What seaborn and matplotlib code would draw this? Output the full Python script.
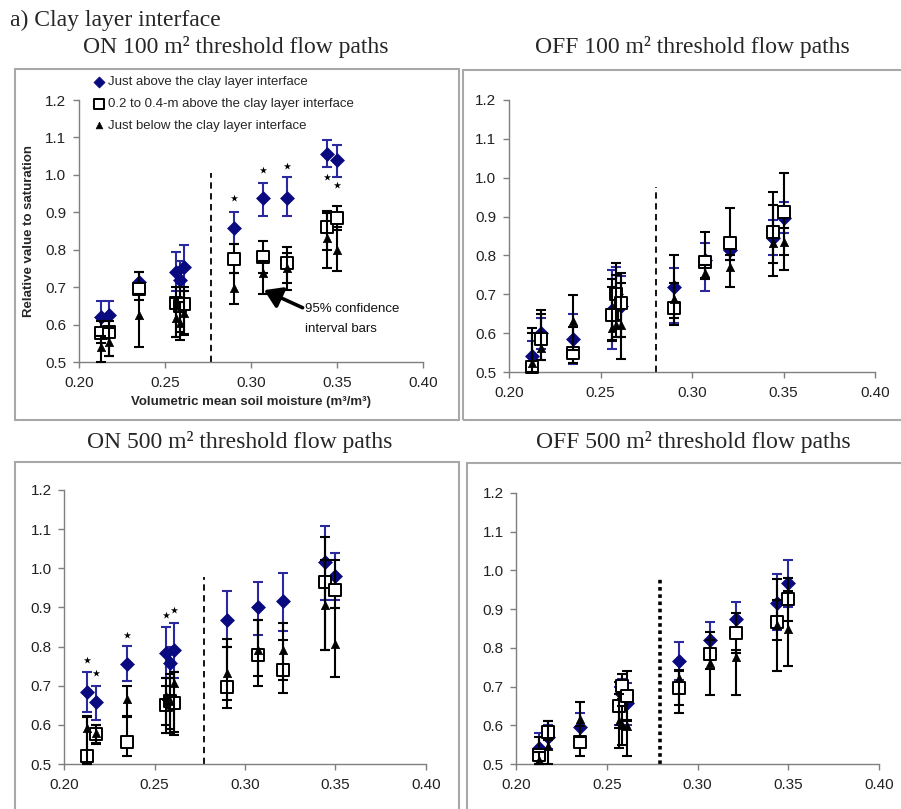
import numpy as np
import matplotlib
matplotlib.use("Agg")
import matplotlib.pyplot as plt
import seaborn as sns
from matplotlib.patches import Rectangle

# ---------------- data ----------------
soil_moisture = [0.2125, 0.2175, 0.235, 0.2565, 0.2585, 0.261, 0.290, 0.307, 0.321, 0.344, 0.350]

# ON 100 m2
on100_above    = [0.619, 0.626, 0.715, 0.741, 0.719, 0.753, 0.859, 0.937, 0.937, 1.055, 1.040]
on100_above_lo = [0.575, 0.588, 0.690, 0.690, 0.670, 0.690, 0.815, 0.890, 0.890, 1.022, 0.993]
on100_above_hi = [0.664, 0.664, 0.741, 0.793, 0.770, 0.813, 0.901, 0.979, 0.993, 1.093, 1.081]
on100_mid      = [0.578, 0.581, 0.694, 0.657, 0.650, 0.655, 0.774, 0.781, 0.764, 0.862, 0.885]
on100_mid_lo   = [0.550, 0.516, 0.666, 0.568, 0.580, 0.575, 0.737, 0.737, 0.712, 0.800, 0.853]
on100_mid_hi   = [0.610, 0.610, 0.741, 0.700, 0.700, 0.700, 0.814, 0.822, 0.808, 0.904, 0.918]
on100_below    = [0.541, 0.554, 0.626, 0.617, 0.605, 0.630, 0.697, 0.737, 0.750, 0.830, 0.800]
on100_below_lo = [0.500, 0.516, 0.541, 0.568, 0.560, 0.572, 0.655, 0.683, 0.692, 0.750, 0.744]
on100_below_hi = [0.570, 0.590, 0.683, 0.670, 0.660, 0.690, 0.737, 0.770, 0.790, 0.897, 0.862]
on100_star_x = [0.290, 0.307, 0.321, 0.344, 0.350]
on100_star_y = [0.937, 1.013, 1.024, 0.995, 0.973]

# OFF 100 m2
off100_above    = [0.541, 0.600, 0.584, 0.660, 0.700, 0.670, 0.720, 0.788, 0.814, 0.844, 0.896]
off100_above_lo = [0.500, 0.560, 0.520, 0.560, 0.630, 0.589, 0.625, 0.709, 0.788, 0.800, 0.859]
off100_above_hi = [0.581, 0.640, 0.649, 0.762, 0.771, 0.747, 0.767, 0.831, 0.840, 0.891, 0.938]
off100_mid      = [0.514, 0.584, 0.550, 0.647, 0.702, 0.677, 0.664, 0.784, 0.833, 0.861, 0.913]
off100_mid_lo   = [0.500, 0.531, 0.522, 0.582, 0.634, 0.533, 0.621, 0.741, 0.788, 0.747, 0.763]
off100_mid_hi   = [0.612, 0.660, 0.617, 0.720, 0.781, 0.754, 0.800, 0.861, 0.921, 0.962, 1.011]
off100_below    = [0.522, 0.563, 0.630, 0.612, 0.620, 0.620, 0.687, 0.756, 0.769, 0.831, 0.835]
off100_below_lo = [0.500, 0.531, 0.557, 0.580, 0.590, 0.590, 0.640, 0.740, 0.720, 0.780, 0.800]
off100_below_hi = [0.600, 0.650, 0.698, 0.740, 0.750, 0.730, 0.730, 0.775, 0.800, 0.930, 0.870]

# ON 500 m2
on500_above    = [0.685, 0.658, 0.756, 0.783, 0.759, 0.792, 0.868, 0.900, 0.917, 1.015, 0.981]
on500_above_lo = [0.634, 0.613, 0.713, 0.720, 0.720, 0.720, 0.800, 0.830, 0.841, 0.919, 0.919]
on500_above_hi = [0.735, 0.700, 0.802, 0.851, 0.800, 0.861, 0.941, 0.966, 0.989, 1.108, 1.038]
on500_mid      = [0.521, 0.577, 0.555, 0.651, 0.660, 0.656, 0.696, 0.779, 0.739, 0.964, 0.945]
on500_mid_lo   = [0.500, 0.554, 0.521, 0.580, 0.590, 0.583, 0.643, 0.724, 0.681, 0.792, 0.898]
on500_mid_hi   = [0.622, 0.600, 0.622, 0.720, 0.730, 0.735, 0.820, 0.868, 0.817, 1.079, 1.021]
on500_below    = [0.592, 0.579, 0.666, 0.673, 0.660, 0.707, 0.732, 0.792, 0.790, 0.907, 0.807]
on500_below_lo = [0.500, 0.550, 0.620, 0.600, 0.580, 0.575, 0.664, 0.700, 0.715, 0.792, 0.722]
on500_below_hi = [0.620, 0.600, 0.700, 0.700, 0.720, 0.735, 0.800, 0.868, 0.861, 1.020, 0.898]
on500_star_x = [0.2125, 0.2175, 0.235, 0.2565, 0.261]
on500_star_y = [0.766, 0.733, 0.830, 0.881, 0.893]

# OFF 500 m2
off500_above    = [0.541, 0.570, 0.595, 0.655, 0.680, 0.657, 0.765, 0.820, 0.874, 0.917, 0.968]
off500_above_lo = [0.500, 0.540, 0.563, 0.600, 0.640, 0.600, 0.716, 0.773, 0.829, 0.846, 0.906]
off500_above_hi = [0.580, 0.600, 0.631, 0.700, 0.720, 0.710, 0.814, 0.868, 0.919, 0.990, 1.028]
off500_mid      = [0.524, 0.582, 0.556, 0.650, 0.702, 0.676, 0.696, 0.783, 0.839, 0.868, 0.925]
off500_mid_lo   = [0.500, 0.563, 0.521, 0.593, 0.668, 0.614, 0.653, 0.745, 0.786, 0.820, 0.870]
off500_mid_hi   = [0.571, 0.610, 0.599, 0.713, 0.733, 0.741, 0.741, 0.820, 0.891, 0.923, 0.980]
off500_below    = [0.511, 0.547, 0.616, 0.610, 0.600, 0.599, 0.722, 0.760, 0.776, 0.859, 0.850]
off500_below_lo = [0.500, 0.500, 0.571, 0.541, 0.550, 0.521, 0.631, 0.679, 0.679, 0.741, 0.752]
off500_below_hi = [0.530, 0.610, 0.661, 0.680, 0.650, 0.610, 0.743, 0.840, 0.795, 0.977, 0.948]

series_labels = ["Just above the clay layer interface",
                 "0.2 to 0.4-m above the clay layer interface",
                 "Just below the clay layer interface"]
panel_titles = ["ON 100 m² threshold flow paths", "OFF 100 m² threshold flow paths",
                "ON 500 m² threshold flow paths", "OFF 500 m² threshold flow paths"]
threshold_x = [0.2767, 0.2803, 0.2773, 0.2793]
threshold_top = [1.005, 0.976, 0.978, 0.978]
x_ticks = [0.20, 0.25, 0.30, 0.35, 0.40]
y_ticks = [0.5, 0.6, 0.7, 0.8, 0.9, 1.0, 1.1, 1.2]

# ---------------- figure ----------------
sns.set_style("white")
plt.rcParams["font.family"] = ["Liberation Sans", "DejaVu Sans"]

W, H = 901, 809
fig = plt.figure(figsize=(W / 100, H / 100), dpi=100)


def px_rect(l, t, r, b):
    return [l / W, 1 - b / H, (r - l) / W, (b - t) / H]


NAVY = "#0a0a80"
NAVY_ERR = "#2a2a9e"
GRAY = "#7f7f7f"

# outer frames
for (l, t, r, b) in [(15, 69, 459, 420), (463, 70, 910, 420),
                     (15, 462, 459, 820), (467, 463, 910, 820)]:
    fig.add_artist(Rectangle((l / W, 1 - b / H), (r - l) / W, (b - t) / H,
                             transform=fig.transFigure, fill=False,
                             ec="#a8a8a8", lw=1.5))

axes_px = [(79, 100, 423, 362), (509, 100, 875, 372),
           (64, 490, 426, 764), (516, 493, 879, 764)]
title_pos = [(236, 47), (692, 47), (240, 442), (693, 442)]

panel_data = [
    (on100_above, on100_above_lo, on100_above_hi, on100_mid, on100_mid_lo, on100_mid_hi,
     on100_below, on100_below_lo, on100_below_hi),
    (off100_above, off100_above_lo, off100_above_hi, off100_mid, off100_mid_lo, off100_mid_hi,
     off100_below, off100_below_lo, off100_below_hi),
    (on500_above, on500_above_lo, on500_above_hi, on500_mid, on500_mid_lo, on500_mid_hi,
     on500_below, on500_below_lo, on500_below_hi),
    (off500_above, off500_above_lo, off500_above_hi, off500_mid, off500_mid_lo, off500_mid_hi,
     off500_below, off500_below_lo, off500_below_hi),
]
stars = {0: (on100_star_x, on100_star_y), 2: (on500_star_x, on500_star_y)}

x = np.array(soil_moisture)
axes = []
for i, rect in enumerate(axes_px):
    ax = fig.add_axes(px_rect(*rect))
    axes.append(ax)
    a, alo, ahi, m, mlo, mhi, bl, blo, bhi = [np.array(v) for v in panel_data[i]]

    # series 1: just above (navy diamonds)
    ax.errorbar(x, a, yerr=[a - alo, ahi - a], fmt="none", ecolor=NAVY_ERR,
                elinewidth=1.5, capsize=3.5, capthick=1.5, zorder=2, clip_on=False)
    sns.scatterplot(x=x, y=a, marker="D", s=50, color=NAVY, edgecolor=NAVY,
                    linewidth=0.5, ax=ax, zorder=3, clip_on=False,
                    label=series_labels[0] if i == 0 else None, legend=False)
    # series 2: 0.2-0.4 m above (white squares)
    ax.errorbar(x, m, yerr=[m - mlo, mhi - m], fmt="none", ecolor="black",
                elinewidth=1.5, capsize=3.5, capthick=1.5, zorder=4, clip_on=False)
    sns.scatterplot(x=x, y=m, marker="s", s=82, color="white", edgecolor="black",
                    linewidth=1.4, ax=ax, zorder=5, clip_on=False,
                    label=series_labels[1] if i == 0 else None, legend=False)
    # series 3: just below (black triangles)
    ax.errorbar(x, bl, yerr=[bl - blo, bhi - bl], fmt="none", ecolor="black",
                elinewidth=1.5, capsize=3.5, capthick=1.5, zorder=6, clip_on=False)
    sns.scatterplot(x=x, y=bl, marker="^", s=36, color="black", edgecolor="black",
                    linewidth=0.5, ax=ax, zorder=7, clip_on=False,
                    label=series_labels[2] if i == 0 else None, legend=False)

    if i in stars:
        sx, sy = stars[i]
        ax.scatter(sx, sy, marker="*", s=30, color="black", zorder=8, linewidths=0)

    # threshold line
    if i == 3:
        ax.vlines(threshold_x[i], 0.5, threshold_top[i], colors="black",
                  linestyles=(0, (1.0, 1.0)), lw=2.6, zorder=1)
    else:
        ax.vlines(threshold_x[i], 0.5, threshold_top[i], colors="black",
                  linestyles=(0, (3.5, 2.5)), lw=1.3, zorder=1)

    ax.set_xlim(0.2, 0.4)
    ax.set_ylim(0.5, 1.2)
    ax.set_xticks(x_ticks)
    ax.set_yticks(y_ticks)
    ax.set_xticklabels([f"{v:.2f}" for v in x_ticks])
    ax.set_yticklabels([f"{v:.1f}" for v in y_ticks])
    for s in ["top", "right"]:
        ax.spines[s].set_visible(False)
    for s in ["left", "bottom"]:
        ax.spines[s].set_color(GRAY)
        ax.spines[s].set_linewidth(1.0)
    ax.tick_params(axis="both", which="major", direction="out", length=4, width=1,
                   color=GRAY, labelsize=11, labelcolor="#222222",
                   bottom=True, left=True)
    ax.tick_params(axis="x", pad=6)
    ax.tick_params(axis="y", pad=5)
    ax.set_xlabel("")
    ax.set_ylabel("")
    ax.patch.set_alpha(0)

    tx, ty = title_pos[i]
    fig.text(tx / W, 1 - ty / H, panel_titles[i], ha="center", va="center",
             fontsize=17, family=["Liberation Serif", "DejaVu Serif"])

ax0 = axes[0]
ax0.set_ylabel("Relative value to saturation", fontsize=9.5, fontweight="bold")
ax0.yaxis.set_label_coords(-0.128, 0.5)
ax0.set_xlabel("Volumetric mean soil moisture (m³/m³)", fontsize=9.5, fontweight="bold")
ax0.xaxis.set_label_coords(0.5, -0.13)

leg = ax0.legend(loc="upper left", bbox_to_anchor=(94 / W, 1 - 76 / H),
                 bbox_transform=fig.transFigure, frameon=False, fontsize=9.5,
                 handlelength=0.8, handletextpad=0.25, labelspacing=0.72,
                 borderpad=0, borderaxespad=0, markerscale=0.8)

ax0.annotate("", xy=(0.3076, 0.692), xytext=(0.3300, 0.645),
             arrowprops=dict(arrowstyle="-|>,head_length=0.7,head_width=0.45",
                             lw=2.6, color="black", shrinkA=0, shrinkB=0,
                             mutation_scale=15), zorder=9)
ax0.text(0.3314, 0.615, "95% confidence\ninterval bars", ha="left", va="center",
         fontsize=9.5, linespacing=1.8, color="#111111")

fig.text(10 / W, 1 - 20 / H, "a) Clay layer interface", ha="left", va="center",
         fontsize=17, family=["Liberation Serif", "DejaVu Serif"])

fig.savefig("out.png", dpi=100)
